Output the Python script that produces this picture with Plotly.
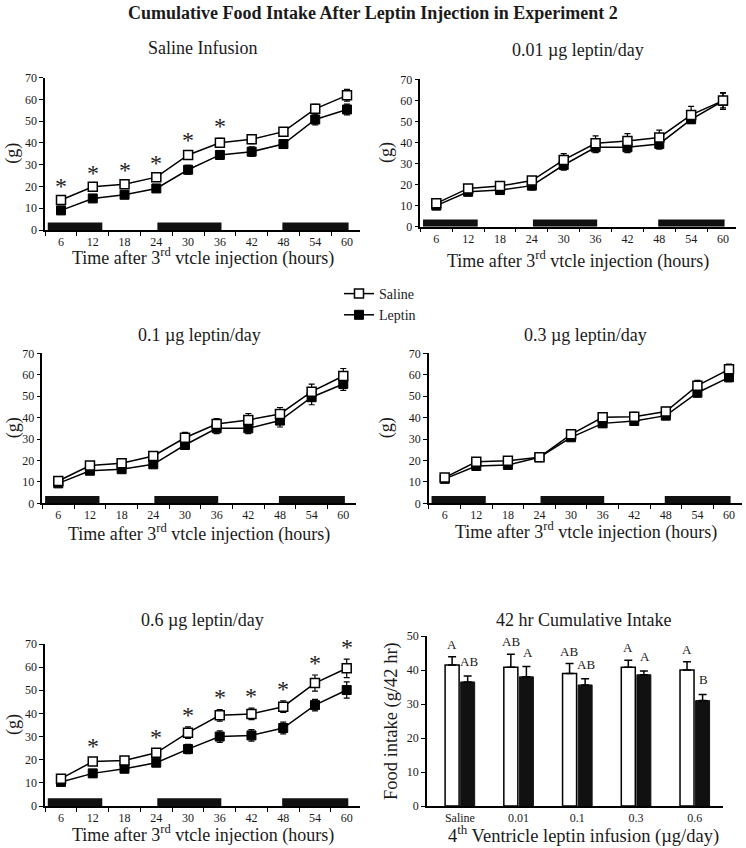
import plotly.graph_objects as go

W, H = 746, 848
FONT = "Liberation Serif"

# ---------------- data ----------------
hours = [6, 12, 18, 24, 30, 36, 42, 48, 54, 60]

panel_titles = ["Saline Infusion", "0.01 \u00b5g leptin/day", "0.1 \u00b5g leptin/day",
                "0.3 \u00b5g leptin/day", "0.6 \u00b5g leptin/day"]

sal_saline = [13.8, 19.9, 21.0, 24.3, 34.5, 40.1, 41.7, 45.2, 55.7, 61.9]
sal_saline_err = [1.0, 1.0, 1.0, 1.2, 1.5, 2.0, 2.0, 1.8, 2.0, 2.7]
sal_leptin = [9.0, 14.5, 16.2, 19.1, 27.7, 34.5, 36.0, 39.5, 50.8, 55.4]
sal_leptin_err = [1.0, 1.0, 1.0, 1.5, 2.0, 2.0, 2.2, 2.0, 2.5, 2.5]
sal_sig = [1, 1, 1, 1, 1, 1, 0, 0, 0, 0]

d001_saline = [11.1, 18.2, 19.3, 21.9, 31.7, 39.6, 40.7, 42.4, 53.1, 59.9]
d001_saline_err = [1.0, 1.5, 1.5, 1.5, 3.0, 3.5, 3.5, 3.5, 4.0, 3.5]
d001_leptin = [10.0, 16.6, 17.4, 19.5, 29.3, 37.7, 37.7, 39.3, 51.0, 59.7]
d001_leptin_err = [1.0, 2.0, 2.0, 2.0, 2.5, 2.5, 2.5, 2.5, 2.0, 4.0]
d001_sig = [0] * 10

d01_saline = [10.4, 17.6, 18.7, 22.1, 30.6, 37.0, 38.9, 41.7, 52.1, 59.4]
d01_saline_err = [1.0, 1.5, 1.5, 1.5, 2.5, 2.5, 3.0, 3.0, 3.5, 3.5]
d01_leptin = [9.3, 15.2, 15.9, 18.2, 27.2, 35.0, 35.0, 38.6, 49.5, 55.7]
d01_leptin_err = [1.0, 1.5, 1.5, 1.5, 2.0, 2.5, 2.5, 3.0, 3.5, 3.0]
d01_sig = [0] * 10

d03_saline = [12.0, 19.4, 19.9, 21.5, 32.2, 40.1, 40.4, 42.8, 54.9, 62.5]
d03_saline_err = [1.0, 1.0, 1.0, 1.0, 1.0, 2.0, 2.0, 2.0, 2.5, 2.5]
d03_leptin = [11.4, 17.4, 17.9, 21.5, 30.8, 37.3, 38.4, 40.9, 51.6, 58.8]
d03_leptin_err = [1.0, 1.0, 1.0, 1.0, 1.0, 1.5, 1.5, 1.0, 2.0, 2.0]
d03_sig = [0] * 10

d06_saline = [11.8, 19.2, 19.7, 23.0, 31.7, 39.2, 39.8, 42.9, 53.1, 59.5]
d06_saline_err = [1.0, 1.5, 1.5, 1.5, 2.5, 2.5, 2.5, 2.5, 3.5, 4.0]
d06_leptin = [10.4, 14.1, 16.1, 18.7, 24.6, 30.0, 30.5, 33.7, 43.6, 50.1]
d06_leptin_err = [1.0, 1.5, 1.5, 1.5, 2.0, 2.5, 2.5, 2.5, 2.5, 3.5]
d06_sig = [0, 1, 0, 1, 1, 1, 1, 1, 1, 1]

dark_periods = [(3.5, 13.8), (24.2, 36.3), (47.8, 60.3)]

bar_groups = ["Saline", "0.01", "0.1", "0.3", "0.6"]
bar_saline = [41.5, 40.8, 39.0, 40.8, 40.0]
bar_saline_err = [2.4, 3.8, 2.9, 2.1, 2.4]
bar_leptin = [36.5, 38.0, 35.6, 38.6, 31.0]
bar_leptin_err = [1.7, 3.0, 1.8, 1.1, 1.8]
bar_saline_letters = ["A", "AB", "AB", "A", "A"]
bar_leptin_letters = ["AB", "A", "AB", "A", "B"]

series = [
    (sal_saline, sal_saline_err, sal_leptin, sal_leptin_err, sal_sig),
    (d001_saline, d001_saline_err, d001_leptin, d001_leptin_err, d001_sig),
    (d01_saline, d01_saline_err, d01_leptin, d01_leptin_err, d01_sig),
    (d03_saline, d03_saline_err, d03_leptin, d03_leptin_err, d03_sig),
    (d06_saline, d06_saline_err, d06_leptin, d06_leptin_err, d06_sig),
]

# ---------------- layout geometry (page pixels) ----------------
# (x of hour 6, x of hour 60, y top (70), y bottom (0))
boxes = [
    (61.0, 347.0, 77.7, 230.0),
    (436.3, 723.0, 79.3, 226.7),
    (58.3, 343.3, 353.3, 503.3),
    (444.7, 729.0, 353.3, 503.3),
    (61.0, 346.7, 644.0, 806.0),
]
XR = (3.0, 62.5)
title_y = [48, 50, 335, 335, 620]
xtitle_y = [257, 260, 533, 531, 834]
ytitle_x = [13, 386, 13, 386, 13]
TXT = "#1a1a1a"


def fx(px):
    return px / W


def fy(py):
    return 1 - py / H


fig = go.Figure()
annotations = []
shapes = []
layout_axes = {}


def label(xp, yp, text, size=18, angle=0):
    annotations.append(dict(x=fx(xp), y=fy(yp), xref="paper", yref="paper", text=text,
                            showarrow=False, xanchor="center", yanchor="middle", textangle=angle,
                            font=dict(family=FONT, size=size, color=TXT)))


for i, (box, data) in enumerate(zip(boxes, series)):
    n = i + 1
    x6, x60, ytop, ybot = box
    ppu = (x60 - x6) / 54.0
    left = x6 - (6 - XR[0]) * ppu
    right = x60 + (XR[1] - 60) * ppu
    xa = "x" if n == 1 else f"x{n}"
    ya = "y" if n == 1 else f"y{n}"
    sal, sal_e, lep, lep_e, sig = data

    fig.add_trace(go.Scatter(
        x=hours, y=lep, xaxis=xa, yaxis=ya, name="Leptin", mode="lines+markers",
        line=dict(color="black", width=1.5),
        marker=dict(symbol="square", size=9, color="black", line=dict(color="black", width=1)),
        error_y=dict(type="data", array=lep_e, color="black", thickness=1.2, width=3),
        showlegend=(n == 1), legendrank=2, cliponaxis=False))
    fig.add_trace(go.Scatter(
        x=hours, y=sal, xaxis=xa, yaxis=ya, name="Saline", mode="lines+markers",
        line=dict(color="black", width=1.5),
        marker=dict(symbol="square", size=9, color="white", line=dict(color="black", width=1.5)),
        error_y=dict(type="data", array=sal_e, color="black", thickness=1.2, width=3),
        showlegend=(n == 1), legendrank=1, cliponaxis=False))

    xkey = "xaxis" if n == 1 else f"xaxis{n}"
    ykey = "yaxis" if n == 1 else f"yaxis{n}"
    layout_axes[xkey] = dict(
        domain=[fx(left), fx(right)], anchor=ya, range=list(XR), automargin=False,
        tickmode="array", tickvals=hours, ticks="", showgrid=False, zeroline=False,
        showline=True, linecolor="black", linewidth=1.5,
        tickfont=dict(family=FONT, size=12, color=TXT),
        minor=dict(tickmode="array", tickvals=[3, 9, 15, 21, 27, 33, 39, 45, 51, 57],
                   ticks="outside", ticklen=4, tickcolor="black", tickwidth=1.2, showgrid=False))
    layout_axes[ykey] = dict(
        domain=[fy(ybot), fy(ytop)], anchor=xa, range=[0, 70], dtick=10, tick0=0, automargin=False,
        ticks="outside", ticklen=4, tickwidth=1.2, tickcolor="black",
        showgrid=False, zeroline=False, showline=True, linecolor="black", linewidth=1.5,
        tickfont=dict(family=FONT, size=12, color=TXT))

    for (a, b) in dark_periods:
        shapes.append(dict(type="rect", xref=xa, yref=ya, x0=a, x1=b, y0=0, y1=3.4,
                           fillcolor="#111", line=dict(width=0), layer="above"))

    for h, s, e, flag in zip(hours, sal, sal_e, sig):
        if flag:
            annotations.append(dict(x=h, y=s + e, xref=xa, yref=ya, text="*", showarrow=False,
                                    xanchor="center", yanchor="middle", yshift=12,
                                    font=dict(family=FONT, size=24, color="#222")))

    cx = (left + right) / 2
    label(cx, title_y[i], panel_titles[i])
    label(cx, xtitle_y[i], "Time after 3<sup>rd</sup> vtcle injection (hours)")
    label(ytitle_x[i], (ytop + ybot) / 2, "(g)", angle=-90)

# ---------------- bar chart ----------------
bl, br, bt, bb = 427.0, 723.0, 636.0, 806.0
fig.add_trace(go.Bar(
    x=bar_groups, y=bar_saline, xaxis="x6", yaxis="y6", name="Saline", showlegend=False,
    marker=dict(color="white", line=dict(color="black", width=1.5)),
    error_y=dict(type="data", symmetric=False, array=bar_saline_err, arrayminus=[0] * 5,
                 color="black", thickness=1.5, width=4)))
fig.add_trace(go.Bar(
    x=bar_groups, y=bar_leptin, xaxis="x6", yaxis="y6", name="Leptin", showlegend=False,
    marker=dict(color="#111", line=dict(color="#111", width=1)),
    error_y=dict(type="data", symmetric=False, array=bar_leptin_err, arrayminus=[0] * 5,
                 color="black", thickness=1.5, width=4)))

layout_axes["xaxis6"] = dict(
    domain=[fx(bl), fx(br)], anchor="y6", type="category", range=[-0.56, 4.48], automargin=False,
    ticks="", showline=True, linecolor="black", linewidth=1.5, showgrid=False,
    tickfont=dict(family=FONT, size=12, color=TXT))
layout_axes["yaxis6"] = dict(
    domain=[fy(bb), fy(bt)], anchor="x6", range=[0, 50], dtick=10, ticks="outside", ticklen=4,
    tickwidth=1.2, tickcolor="black", showline=True, linecolor="black", linewidth=1.5, automargin=False,
    showgrid=False, zeroline=False, tickfont=dict(family=FONT, size=12, color=TXT))

for k, (v, e, t) in enumerate(zip(bar_saline, bar_saline_err, bar_saline_letters)):
    annotations.append(dict(x=k, y=v + e, xref="x6", yref="y6", text=t, showarrow=False,
                            xanchor="center", xshift=-8, yshift=3, yanchor="bottom",
                            font=dict(family=FONT, size=13, color=TXT)))
for k, (v, e, t) in enumerate(zip(bar_leptin, bar_leptin_err, bar_leptin_letters)):
    annotations.append(dict(x=k, y=v + e, xref="x6", yref="y6", text=t, showarrow=False,
                            xanchor="center", xshift=9, yshift=5, yanchor="bottom",
                            font=dict(family=FONT, size=13, color=TXT)))

bcx = 583
label(bcx, 620, "42 hr Cumulative Intake")
label(bcx, 834, "4<sup>th</sup> Ventricle leptin infusion (\u00b5g/day)", size=18.5)
label(391, (bt + bb) / 2, "Food intake (g/42 hr)", size=18.5, angle=-90)

# main title
label(373, 13, "<b>Cumulative Food Intake After Leptin Injection in Experiment 2</b>", size=18)

fig.update_layout(
    width=W, height=H, margin=dict(l=0, r=0, t=0, b=0, pad=0, autoexpand=False),
    paper_bgcolor="white", plot_bgcolor="white",
    barmode="group", bargap=0.47, bargroupgap=0.1,
    showlegend=True,
    legend=dict(x=fx(339), y=fy(278), xanchor="left", yanchor="top",
                font=dict(family=FONT, size=14, color=TXT),
                bgcolor="rgba(0,0,0,0)", tracegroupgap=0, itemwidth=30),
    annotations=annotations, shapes=shapes,
    **layout_axes,
)

fig.write_html("out.html", config={"displayModeBar": False},
               post_script="document.body.style.margin='0';document.body.style.overflow='hidden';")
